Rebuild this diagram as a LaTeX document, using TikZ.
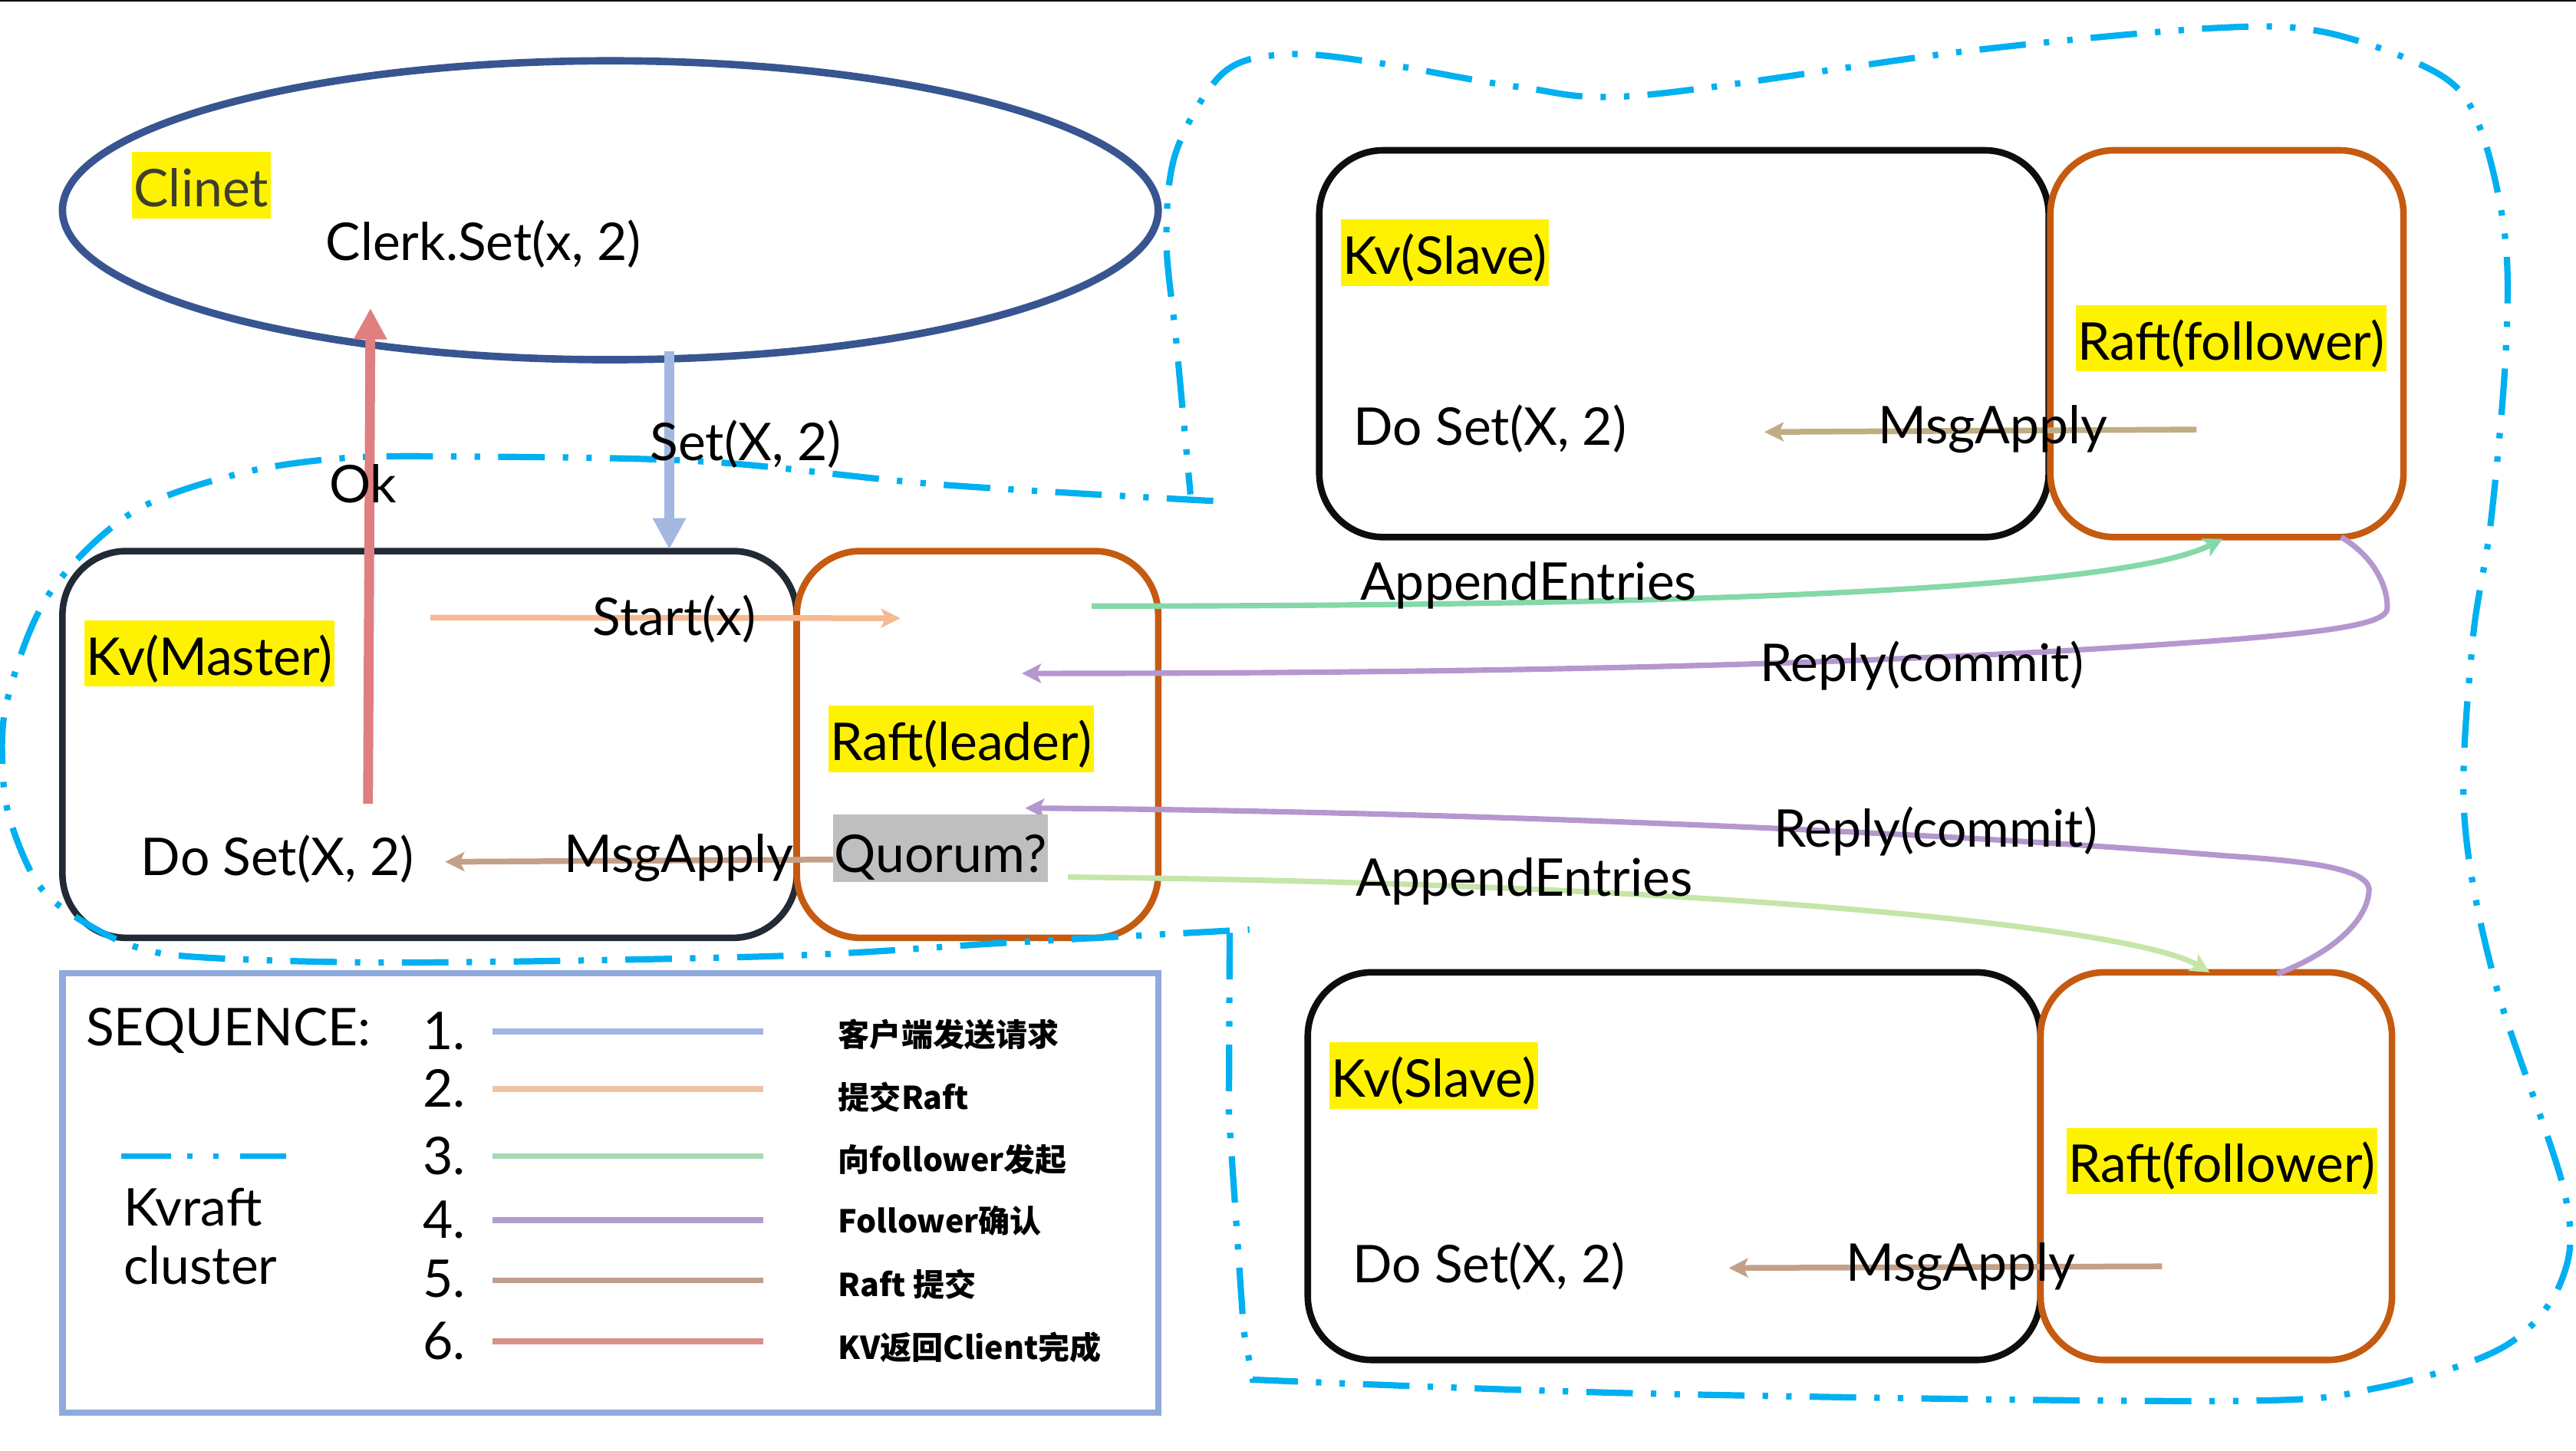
\documentclass[tikz,border=0pt]{standalone}
\usepackage{fontspec}
\setmainfont{Lato}
\newfontfamily\cjk{Noto Sans CJK SC}
\usetikzlibrary{arrows.meta,shapes.geometric}
\definecolor{clientblue}{HTML}{385591}
\definecolor{boxdark}{HTML}{222A35}
\definecolor{boxblack}{HTML}{0D0D0D}
\definecolor{raftorange}{HTML}{C55A11}
\definecolor{legendblue}{HTML}{8FAADC}
\definecolor{clustercyan}{HTML}{00B0F0}
\definecolor{okred}{HTML}{DF7F7F}
\definecolor{setblue}{HTML}{A2B8E1}
\definecolor{peach}{HTML}{F5BA93}
\definecolor{brownm}{HTML}{C4A089}
\definecolor{tan}{HTML}{BEAE82}
\definecolor{greenA}{HTML}{84D8A9}
\definecolor{greenB}{HTML}{C6E5A8}
\definecolor{purp}{HTML}{B597D0}
\definecolor{lgA}{HTML}{A0B5E1}
\definecolor{lgB}{HTML}{EFC2A3}
\definecolor{lgC}{HTML}{A9D8B2}
\definecolor{lgD}{HTML}{B29DCF}
\definecolor{lgE}{HTML}{BD9D8B}
\definecolor{lgF}{HTML}{D8928A}
\definecolor{qgray}{HTML}{BFBFBF}
\definecolor{clinettext}{HTML}{3F3F2C}
\tikzset{
  lbl/.style={font=\fontsize{19}{23}\selectfont, inner sep=0pt},
  hl/.style={lbl, fill=yellow, text height=20pt, text depth=4.2pt, inner xsep=0.8pt, inner ysep=0pt},
  kvbox/.style={draw=#1, line width=2.4pt, rounded corners=23.4pt, minimum height=141.3pt, inner sep=0pt},
  cluster/.style={draw=clustercyan, line width=2.3pt,
    dash pattern=on 17pt off 6.6pt on 2pt off 6.6pt on 2pt off 6.6pt},
  bigarrow/.style={draw=#1, line width=3.6pt, -{Triangle[length=11.4pt,width=11.4pt]}},
  smallarrow/.style={draw=#1, line width=2.1pt, -{Stealth[length=7pt,width=7pt,inset=1.6pt]}},
  curvearrow/.style={draw=#1, line width=2pt, -{Stealth[length=7pt,width=7pt,inset=1.6pt]}},
  legline/.style={draw=#1, line width=2.1pt},
  cjklbl/.style={font=\cjk\bfseries\fontsize{11.5}{14}\selectfont, inner sep=0pt, anchor=west},
}
\begin{document}
\begin{tikzpicture}[x=0.6pt,y=-0.6pt]
\useasboundingbox (0,0) rectangle (1568,883.4);
\draw[black, line width=0.5pt] (0,0.4) -- (1568,0.4);

% boxes
\node[ellipse, draw=clientblue, line width=2.7pt, minimum width=400.2pt, minimum height=109.2pt] (client) at (371.5,128) {};
\node[kvbox=boxdark, minimum width=268.2pt] (master) at (261.5,453.25) {};
\node[kvbox=raftorange, minimum width=132pt] (leader) at (595,453.25) {};
\node[kvbox=boxblack, minimum width=266.4pt] (slave1) at (1025,209.25) {};
\node[kvbox=raftorange, minimum width=129pt] (follower1) at (1355.5,209.25) {};
\node[kvbox=boxblack, minimum width=267.6pt, minimum height=141.6pt] (slave2) at (1019,710) {};
\node[kvbox=raftorange, minimum width=128.4pt, minimum height=141.6pt] (follower2) at (1349,710) {};
\node[draw=legendblue, line width=2.4pt, minimum width=400.2pt, minimum height=160.5pt, inner sep=0pt] (legend) at (371.5,726.25) {};

% clusters
\draw[cluster] (738.5,305) -- plot[smooth, tension=0.55] coordinates {(738.5,305) (572,295) (429,281) (286,278) (208,279) (143,289) (79,313) (29,363) (4,428) (2,475) (8,505) (23,538) (44,557) (81,576) (125,583) (250,586) (476,582) (613,574) (760.5,566)};
\draw[cluster] (748.5,568) -- (748,679) -- (757,810) -- (762.5,840) -- plot[smooth, tension=0.55] coordinates {(762.5,840) (1004,848.5) (1354,853) (1447,845) (1524,820) (1559,780) (1561,726) (1519,599) (1500,497) (1505,391) (1516,319) (1525,219) (1525,146) (1510,79) (1486,46) (1417,20) (1349,17) (1198,31) (999,58) (925,53) (841,38.6) (785,33) (745,44) (716,92) (710,146) (716,208) (724.6,301)};

% connectors
\coordinate (okS) at (224,489.3);
\coordinate (okE) at (225.5,187.6);
\draw[bigarrow=okred] (okS) -- (okE);
\coordinate (setS) at (407.4,213.7);
\coordinate (setE) at (407.4,334.5);
\draw[bigarrow=setblue] (setS) -- (setE);
\coordinate (stS) at (262,376);
\coordinate (stE) at (548,376.4);
\draw[smallarrow=peach] (stS) -- (stE);
\coordinate (maS) at (511,523.3);
\coordinate (maE) at (271,524.7);
\draw[smallarrow=brownm] (maS) -- (maE);
\coordinate (m1S) at (1337,261.5);
\coordinate (m1E) at (1074,263);
\draw[smallarrow=tan] (m1S) -- (m1E);
\coordinate (m2S) at (1316,771);
\coordinate (m2E) at (1052.3,772);
\draw[smallarrow=brownm] (m2S) -- (m2E);

\coordinate (aeAS) at (664.5,369);
\coordinate (aeAE) at (1353,328);
\draw[curvearrow=greenA] (aeAS) .. controls (1100,369) and (1300,355) .. (aeAE);
\coordinate (rcAS) at (1425,327);
\coordinate (rcAE) at (622,410);
\draw[curvearrow=purp] (rcAS) .. controls (1447,340) and (1454,360) .. (1453,371) .. controls (1451,383) and (1390,388) .. (1260,396) .. controls (1100,405) and (900,410) .. (rcAE);
\coordinate (rcBS) at (1386,593);
\coordinate (rcBE) at (624,492);
\draw[curvearrow=purp] (rcBS) .. controls (1420,580) and (1442,560) .. (1442,541) .. controls (1440,528) and (1400,524) .. (1354,521) .. controls (1200,508) and (900,494) .. (rcBE);
\coordinate (aeBS) at (650,534);
\coordinate (aeBE) at (1345,592);
\draw[curvearrow=greenB] (aeBS) .. controls (1050,538) and (1300,565) .. (aeBE);

% labels
\node[hl, text=clinettext, anchor=base] (clinet) at (122.5,126) {Clinet};
\node[lbl, anchor=base west] (clerk) at (198,158.5) {Clerk.Set(x, 2)};
\node[hl, anchor=base] (kvm) at (127.5,411) {Kv(Master)};
\node[hl, anchor=base] (rl) at (585,463) {Raft(leader)};
\node[lbl, fill=qgray, text height=21pt, text depth=3.6pt, inner xsep=0.5pt, anchor=base] (quorum) at (572.5,531) {Quorum?};
\node[lbl, anchor=base west] (dom) at (85.5,533) {Do Set(X, 2)};
\node[lbl, anchor=base west] (msgm) at (343,531) {MsgApply};
\node[lbl, anchor=base west] (startx) at (360.6,387) {Start(x)};
\node[lbl, anchor=base west] (setx) at (395.5,280.3) {Set(X, 2)};
\node[lbl, anchor=base west] (ok) at (200,306) {Ok};
\node[hl, anchor=base] (kvs1) at (879.5,167) {Kv(Slave)};
\node[hl, anchor=base] (rf1) at (1358,219) {Raft(follower)};
\node[lbl, anchor=base west] (dos1) at (823.6,271) {Do Set(X, 2)};
\node[lbl, anchor=base west] (msg1) at (1143,270.3) {MsgApply};
\node[hl, anchor=base] (kvs2) at (872.7,668) {Kv(Slave)};
\node[hl, anchor=base] (rf2) at (1352.5,720) {Raft(follower)};
\node[lbl, anchor=base west] (dos2) at (823,781) {Do Set(X, 2)};
\node[lbl, anchor=base west] (msg2) at (1123.4,779.8) {MsgApply};
\node[lbl, anchor=base west] (ae1) at (827.6,365.5) {AppendEntries};
\node[lbl, anchor=base west] (rc1) at (1071,415) {Reply(commit)};
\node[lbl, anchor=base west] (rc2) at (1079.4,515.7) {Reply(commit)};
\node[lbl, anchor=base west] (ae2) at (825,545.7) {AppendEntries};

% legend
\node[lbl, anchor=base west] (seq) at (52,636.5) {SEQUENCE:};
\node[lbl, anchor=base west] (n1) at (257,639) {1.};
\node[lbl, anchor=base west] (n2) at (257,674) {2.};
\node[lbl, anchor=base west] (n3) at (257,715) {3.};
\node[lbl, anchor=base west] (n4) at (257,753.7) {4.};
\node[lbl, anchor=base west] (n5) at (257,790) {5.};
\node[lbl, anchor=base west] (n6) at (257,827.5) {6.};
\coordinate (l1a) at (300,628);   \coordinate (l1b) at (464.6,628);
\coordinate (l2a) at (300,663);   \coordinate (l2b) at (464.6,663);
\coordinate (l3a) at (300,704);   \coordinate (l3b) at (464.6,704);
\coordinate (l4a) at (300,743);   \coordinate (l4b) at (464.6,743);
\coordinate (l5a) at (300,779.6); \coordinate (l5b) at (464.6,779.6);
\coordinate (l6a) at (300,816.7); \coordinate (l6b) at (464.6,816.7);
\draw[legline=lgA] (l1a) -- (l1b);
\draw[legline=lgB] (l2a) -- (l2b);
\draw[legline=lgC] (l3a) -- (l3b);
\draw[legline=lgD] (l4a) -- (l4b);
\draw[legline=lgE] (l5a) -- (l5b);
\draw[legline=lgF] (l6a) -- (l6b);
\node[cjklbl] (t1) at (510,630) {客户端发送请求};
\node[cjklbl] (t2) at (510,668) {提交Raft};
\node[cjklbl] (t3) at (510,706) {向follower发起};
\node[cjklbl] (t4) at (510,743.5) {Follower确认};
\node[cjklbl] (t5) at (510,782) {Raft 提交};
\node[cjklbl] (t6) at (510,820.5) {KV返回Client完成};
\coordinate (dsA) at (74,704);
\coordinate (dsB) at (174,704);
\draw[draw=clustercyan, line width=2.1pt, dash pattern=on 18pt off 6pt on 1.8pt off 7.8pt on 1.8pt off 7.8pt] (dsA) -- (dsB);
\node[lbl, anchor=base west] (kvraft) at (75,746.6) {Kvraft};
\node[lbl, anchor=base west] (clus) at (75,782) {cluster};
\end{tikzpicture}
\end{document}
